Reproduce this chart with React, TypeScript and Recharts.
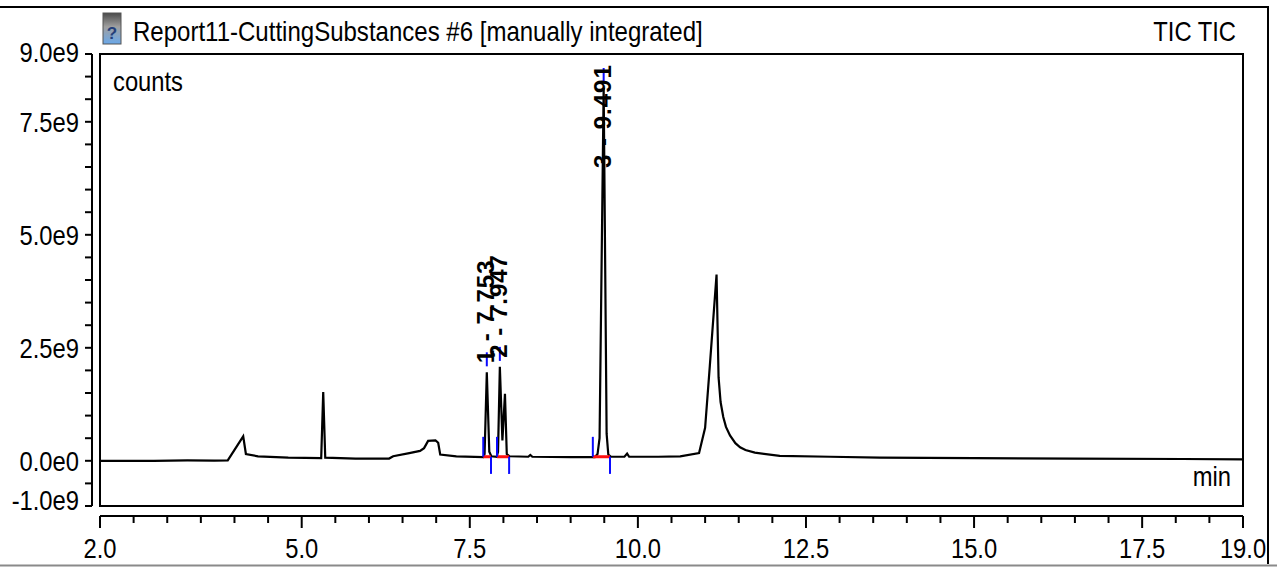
import React from "react";
import { LineChart, Line, XAxis, YAxis, ReferenceLine, ReferenceArea, ReferenceDot } from "recharts";

// retention time (min) and signal (1e9 counts)
const times = [
  2.0, 2.8, 3.3, 3.7, 3.9, 4.13, 4.17, 4.35, 4.8, 5.29, 5.32, 5.35, 5.8, 6.3, 6.36, 6.6, 6.76, 6.82,
  6.88, 6.99, 7.03, 7.06, 7.3, 7.7, 7.72, 7.753, 7.79, 7.82, 7.9, 7.92, 7.947, 7.985, 8.023, 8.05,
  8.09, 8.37, 8.4, 8.43, 9.0, 9.36, 9.4, 9.43, 9.491, 9.535, 9.56, 9.6, 9.8, 9.84, 9.87, 10.3,
  10.63, 10.91, 11.0, 11.07, 11.17, 11.2, 11.23, 11.27, 11.31, 11.37, 11.45, 11.52, 11.6, 11.74,
  12.11, 12.86, 13.6, 15.0, 16.5, 18.1, 19.0,
];
const counts = [
  0.0, 0.0, 0.01, 0.005, 0.01, 0.54, 0.15, 0.1, 0.07, 0.06, 1.52, 0.07, 0.05, 0.05, 0.1, 0.17, 0.22, 0.28,
  0.44, 0.45, 0.4, 0.14, 0.1, 0.08, 0.15, 1.96, 0.2, 0.1, 0.09, 0.2, 2.08, 0.45, 1.48, 0.15,
  0.1, 0.09, 0.13, 0.09, 0.08, 0.08, 0.15, 0.5, 8.25, 0.6, 0.14, 0.09, 0.09, 0.16, 0.09, 0.09,
  0.1, 0.17, 0.73, 2.1, 4.12, 1.85, 1.3, 0.97, 0.75, 0.56, 0.39, 0.3, 0.24, 0.18,
  0.11, 0.09, 0.07, 0.06, 0.05, 0.04, 0.03,
];

const xTicks = [
  2.0, 2.5, 3.0, 3.5, 4.0, 4.5, 5.0, 5.5, 6.0, 6.5, 7.0, 7.5, 8.0, 8.5, 9.0, 9.5, 10.0, 10.5,
  11.0, 11.5, 12.0, 12.5, 13.0, 13.5, 14.0, 14.5, 15.0, 15.5, 16.0, 16.5, 17.0, 17.5, 18.0, 18.5, 19.0,
];
const xLabelled = [2.0, 5.0, 7.5, 10.0, 12.5, 15.0, 17.5, 19.0];
const yTicks = [
  -1.0, -0.5, 0.0, 0.5, 1.0, 1.5, 2.0, 2.5, 3.0, 3.5, 4.0, 4.5, 5.0, 5.5, 6.0, 6.5, 7.0, 7.5, 8.0, 8.5, 9.0,
];
const yLabelled = [-1.0, 0.0, 2.5, 5.0, 7.5, 9.0];

// integrated peaks
const peakNames = ["1 - 7.753", "2 - 7.947", "3 - 9.491"];
const peakApexTimes = [7.753, 7.947, 9.491];
const peakApexCounts = [1.96, 2.08, 8.25];
const peakStartTimes = [7.7, 7.905, 9.33];
const peakEndTimes = [7.815, 8.085, 9.585];
const peakBaseCounts = [0.09, 0.09, 0.09];

const data = times.map((t, i) => ({ t, v: counts[i] }));

const FONT = "'Liberation Sans', Arial, sans-serif";
const BLUE = "#0a0aff";
const RED = "#ff1010";

// the original's labels use a slightly condensed face
const Narrow = ({ x, y, anchor = "start", size = 27, sx = 0.88, children }: any) => (
  <g transform={`translate(${x} ${y}) scale(${sx} 1)`}>
    <text x={0} y={0} textAnchor={anchor} fontSize={size} fontFamily={FONT} fill="#000">
      {children}
    </text>
  </g>
);

const XTick = (props: any) => {
  const { x, y, payload } = props;
  const v = payload.value;
  const major = xLabelled.includes(v);
  return (
    <g>
      <line x1={x} x2={x} y1={y + 10} y2={y + (major ? 22 : 17)} stroke="#000" strokeWidth={2} />
      {major && (
        <Narrow x={x} y={y + 52} anchor="middle">
          {v.toFixed(1)}
        </Narrow>
      )}
    </g>
  );
};

const YTick = (props: any) => {
  const { x, y, payload } = props;
  const v = payload.value;
  const major = yLabelled.includes(v);
  const shift = v === 9 ? -2 : v === -1 ? -6 : 0;
  const label = v === 0 ? "0.0e0" : `${v.toFixed(1)}e9`;
  return (
    <g>
      <line x1={x - 15} x2={x - 8} y1={y} y2={y} stroke="#000" strokeWidth={2} />
      {major && (
        <Narrow x={x - 21} y={y + 9.7 + shift} anchor="end">
          {label}
        </Narrow>
      )}
    </g>
  );
};

const peakLabel = (name: string) => (props: any) => {
  const { cx, cy } = props;
  const bx = cx + 7;
  const by = Math.max(cy - 9, 168);
  return (
    <text
      x={bx}
      y={by}
      transform={`rotate(-90 ${bx} ${by})`}
      fontSize={24}
      fontWeight="bold"
      letterSpacing={1}
      fontFamily={FONT}
      fill="#000"
    >
      {name}
    </text>
  );
};

export default function App() {
  return (
    <div style={{ position: "absolute", left: 0, top: 0, width: 1277, height: 567, background: "#fff" }}>
      <LineChart width={1277} height={567} data={data} margin={{ top: 54, right: 34, bottom: 11, left: 8 }}>
        <XAxis
          dataKey="t"
          type="number"
          domain={[2, 19]}
          ticks={xTicks}
          interval={0}
          tick={<XTick />}
          height={50}
          axisLine={false}
          tickLine={false}
          tickSize={0}
          tickMargin={0}
          allowDataOverflow
        />
        <YAxis
          type="number"
          domain={[-1, 9]}
          ticks={yTicks}
          interval={0}
          tick={<YTick />}
          width={92}
          axisLine={false}
          tickLine={false}
          tickSize={0}
          tickMargin={0}
          allowDataOverflow
        />
        <ReferenceArea x1={2} x2={19} y1={-1} y2={9} fill="none" stroke="#000" strokeWidth={2} ifOverflow="visible" />
        <ReferenceLine segment={[{ x: 1.881, y: -1 }, { x: 1.881, y: 9 }]} stroke="#000" strokeWidth={2} ifOverflow="visible" />
        <ReferenceLine segment={[{ x: 2, y: -1.221 }, { x: 19, y: -1.221 }]} stroke="#000" strokeWidth={2} ifOverflow="visible" />
        <Line dataKey="v" type="linear" stroke="#000" strokeWidth={2.2} dot={false} isAnimationActive={false} />
        {peakNames.map((n, i) => (
          <ReferenceLine
            key={`base${i}`}
            segment={[{ x: peakStartTimes[i], y: peakBaseCounts[i] }, { x: peakEndTimes[i], y: peakBaseCounts[i] }]}
            stroke={RED}
            strokeWidth={3}
            ifOverflow="visible"
          />
        ))}
        {peakNames.map((n, i) => (
          <ReferenceLine
            key={`st${i}`}
            segment={[{ x: peakStartTimes[i], y: peakBaseCounts[i] }, { x: peakStartTimes[i], y: peakBaseCounts[i] + 0.44 }]}
            stroke={BLUE}
            strokeWidth={2}
            ifOverflow="visible"
          />
        ))}
        {peakNames.map((n, i) => (
          <ReferenceLine
            key={`en${i}`}
            segment={[{ x: peakEndTimes[i], y: peakBaseCounts[i] }, { x: peakEndTimes[i], y: peakBaseCounts[i] - 0.38 }]}
            stroke={BLUE}
            strokeWidth={2}
            ifOverflow="visible"
          />
        ))}
        {peakNames.map((n, i) => (
          <ReferenceLine
            key={`ap${i}`}
            segment={[{ x: peakApexTimes[i], y: peakApexCounts[i] + 0.13 }, { x: peakApexTimes[i], y: peakApexCounts[i] + 0.44 }]}
            stroke={BLUE}
            strokeWidth={2}
            ifOverflow="visible"
          />
        ))}
        {peakNames.map((n, i) => (
          <ReferenceDot
            key={`lb${i}`}
            x={peakApexTimes[i]}
            y={peakApexCounts[i]}
            r={0}
            shape={peakLabel(n)}
            ifOverflow="visible"
          />
        ))}
      </LineChart>
      <svg
        width={1277}
        height={567}
        style={{ position: "absolute", left: 0, top: 0, pointerEvents: "none" }}
        fontFamily={FONT}
      >
        <defs>
          <linearGradient id="icon" x1="0" y1="0" x2="0" y2="1">
            <stop offset="0" stopColor="#4a4a4a" />
            <stop offset="0.45" stopColor="#a0a0a0" />
            <stop offset="1" stopColor="#6aa8ea" />
          </linearGradient>
        </defs>
        <line x1={0} y1={7} x2={1269} y2={7} stroke="#000" strokeWidth={2} />
        <line x1={1268} y1={6} x2={1268} y2={564} stroke="#000" strokeWidth={2} />
        <line x1={0} y1={565.5} x2={1277} y2={565.5} stroke="#8a8a8a" strokeWidth={2} />
        <rect x={103} y={13} width={18} height={31} fill="url(#icon)" stroke="#555" strokeWidth={1} />
        <text x={112} y={39} textAnchor="middle" fontSize={17} fontWeight="bold" fill="#243f7a">
          ?
        </text>
        <Narrow x={133} y={41} sx={0.89}>
          Report11-CuttingSubstances #6 [manually integrated]
        </Narrow>
        <Narrow x={1236} y={41} anchor="end">
          TIC TIC
        </Narrow>
        <Narrow x={113} y={91}>
          counts
        </Narrow>
        <Narrow x={1231} y={486} anchor="end">
          min
        </Narrow>
      </svg>
    </div>
  );
}
